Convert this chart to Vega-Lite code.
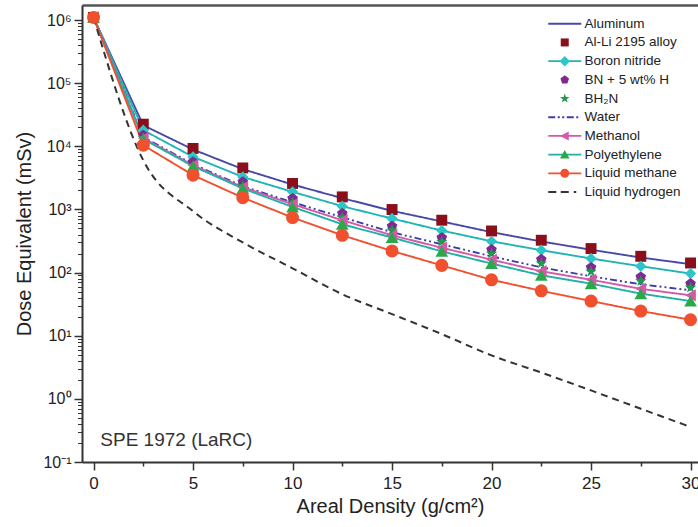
{
  "$schema": "https://vega.github.io/schema/vega-lite/v6.json",
  "width": 616,
  "height": 457,
  "padding": {"left": 82, "top": 5, "right": 0, "bottom": 65},
  "autosize": "none",
  "config": {
    "font": "Liberation Sans",
    "view": {"stroke": null},
    "axis": {"grid": false, "labelColor": "#222", "titleColor": "#222", "domainColor": "#333", "tickColor": "#333", "titleFontWeight": "normal", "labelFont": "Liberation Sans", "titleFont": "Liberation Sans"},
    "legend": {"labelFont": "Liberation Sans", "labelFontSize": 13.5, "labelColor": "#222", "symbolSize": 100, "labelOffset": 13, "rowPadding": 3.7, "padding": 0, "symbolStrokeWidth": 0, "orient": "none", "legendX": 476, "legendY": 12}
  },
  "data": {"values": [
    {"series": "Aluminum", "x": 0, "y": 1100000}, {"series": "Aluminum", "x": 2.5, "y": 21500}, {"series": "Aluminum", "x": 5, "y": 8900}, {"series": "Aluminum", "x": 7.5, "y": 4350}, {"series": "Aluminum", "x": 10, "y": 2480}, {"series": "Aluminum", "x": 12.5, "y": 1510}, {"series": "Aluminum", "x": 15, "y": 950}, {"series": "Aluminum", "x": 17.5, "y": 645}, {"series": "Aluminum", "x": 20, "y": 437}, {"series": "Aluminum", "x": 22.5, "y": 311}, {"series": "Aluminum", "x": 25, "y": 230}, {"series": "Aluminum", "x": 27.5, "y": 173}, {"series": "Aluminum", "x": 30, "y": 136},
    {"series": "Al-Li 2195 alloy", "x": 0, "y": 1100000}, {"series": "Al-Li 2195 alloy", "x": 2.5, "y": 22400}, {"series": "Al-Li 2195 alloy", "x": 5, "y": 9250}, {"series": "Al-Li 2195 alloy", "x": 7.5, "y": 4540}, {"series": "Al-Li 2195 alloy", "x": 10, "y": 2580}, {"series": "Al-Li 2195 alloy", "x": 12.5, "y": 1580}, {"series": "Al-Li 2195 alloy", "x": 15, "y": 997}, {"series": "Al-Li 2195 alloy", "x": 17.5, "y": 675}, {"series": "Al-Li 2195 alloy", "x": 20, "y": 456}, {"series": "Al-Li 2195 alloy", "x": 22.5, "y": 325}, {"series": "Al-Li 2195 alloy", "x": 25, "y": 240}, {"series": "Al-Li 2195 alloy", "x": 27.5, "y": 181}, {"series": "Al-Li 2195 alloy", "x": 30, "y": 142},
    {"series": "Boron nitride", "x": 0, "y": 1100000}, {"series": "Boron nitride", "x": 2.5, "y": 18000}, {"series": "Boron nitride", "x": 5, "y": 6800}, {"series": "Boron nitride", "x": 7.5, "y": 3270}, {"series": "Boron nitride", "x": 10, "y": 1900}, {"series": "Boron nitride", "x": 12.5, "y": 1125}, {"series": "Boron nitride", "x": 15, "y": 718}, {"series": "Boron nitride", "x": 17.5, "y": 463}, {"series": "Boron nitride", "x": 20, "y": 313}, {"series": "Boron nitride", "x": 22.5, "y": 226}, {"series": "Boron nitride", "x": 25, "y": 167}, {"series": "Boron nitride", "x": 27.5, "y": 126}, {"series": "Boron nitride", "x": 30, "y": 96.4},
    {"series": "BN + 5 wt% H", "x": 0, "y": 1100000}, {"series": "BN + 5 wt% H", "x": 2.5, "y": 15000}, {"series": "BN + 5 wt% H", "x": 5, "y": 5670}, {"series": "BN + 5 wt% H", "x": 7.5, "y": 2730}, {"series": "BN + 5 wt% H", "x": 10, "y": 1490}, {"series": "BN + 5 wt% H", "x": 12.5, "y": 861}, {"series": "BN + 5 wt% H", "x": 15, "y": 542}, {"series": "BN + 5 wt% H", "x": 17.5, "y": 356}, {"series": "BN + 5 wt% H", "x": 20, "y": 231}, {"series": "BN + 5 wt% H", "x": 22.5, "y": 162}, {"series": "BN + 5 wt% H", "x": 25, "y": 120}, {"series": "BN + 5 wt% H", "x": 27.5, "y": 85.1}, {"series": "BN + 5 wt% H", "x": 30, "y": 66.8},
    {"series": "BH₂N", "x": 0, "y": 1100000}, {"series": "BH₂N", "x": 2.5, "y": 13500}, {"series": "BH₂N", "x": 5, "y": 4900}, {"series": "BH₂N", "x": 7.5, "y": 2360}, {"series": "BH₂N", "x": 10, "y": 1290}, {"series": "BH₂N", "x": 12.5, "y": 744}, {"series": "BH₂N", "x": 15, "y": 468}, {"series": "BH₂N", "x": 17.5, "y": 308}, {"series": "BH₂N", "x": 20, "y": 200}, {"series": "BH₂N", "x": 22.5, "y": 140}, {"series": "BH₂N", "x": 25, "y": 104}, {"series": "BH₂N", "x": 27.5, "y": 73.5}, {"series": "BH₂N", "x": 30, "y": 57.7},
    {"series": "Water", "x": 0, "y": 1100000}, {"series": "Water", "x": 2.5, "y": 13960}, {"series": "Water", "x": 5, "y": 5210}, {"series": "Water", "x": 7.5, "y": 2330}, {"series": "Water", "x": 10, "y": 1300}, {"series": "Water", "x": 12.5, "y": 752}, {"series": "Water", "x": 15, "y": 435}, {"series": "Water", "x": 17.5, "y": 281}, {"series": "Water", "x": 20, "y": 181}, {"series": "Water", "x": 22.5, "y": 121}, {"series": "Water", "x": 25, "y": 87.3}, {"series": "Water", "x": 27.5, "y": 65.2}, {"series": "Water", "x": 30, "y": 52.4},
    {"series": "Methanol", "x": 0, "y": 1100000}, {"series": "Methanol", "x": 2.5, "y": 13460}, {"series": "Methanol", "x": 5, "y": 5000}, {"series": "Methanol", "x": 7.5, "y": 2250}, {"series": "Methanol", "x": 10, "y": 1210}, {"series": "Methanol", "x": 12.5, "y": 675}, {"series": "Methanol", "x": 15, "y": 390}, {"series": "Methanol", "x": 17.5, "y": 247}, {"series": "Methanol", "x": 20, "y": 160}, {"series": "Methanol", "x": 22.5, "y": 105}, {"series": "Methanol", "x": 25, "y": 76.9}, {"series": "Methanol", "x": 27.5, "y": 55.3}, {"series": "Methanol", "x": 30, "y": 43.6},
    {"series": "Polyethylene", "x": 0, "y": 1100000}, {"series": "Polyethylene", "x": 2.5, "y": 12980}, {"series": "Polyethylene", "x": 5, "y": 4840}, {"series": "Polyethylene", "x": 7.5, "y": 2150}, {"series": "Polyethylene", "x": 10, "y": 1096}, {"series": "Polyethylene", "x": 12.5, "y": 582}, {"series": "Polyethylene", "x": 15, "y": 359}, {"series": "Polyethylene", "x": 17.5, "y": 217}, {"series": "Polyethylene", "x": 20, "y": 139}, {"series": "Polyethylene", "x": 22.5, "y": 90.6}, {"series": "Polyethylene", "x": 25, "y": 66.8}, {"series": "Polyethylene", "x": 27.5, "y": 46.4}, {"series": "Polyethylene", "x": 30, "y": 35.4},
    {"series": "Liquid hydrogen", "x": 0, "y": 1100000}, {"series": "Liquid hydrogen", "x": 2.5, "y": 6000}, {"series": "Liquid hydrogen", "x": 5, "y": 938}, {"series": "Liquid hydrogen", "x": 7.5, "y": 300}, {"series": "Liquid hydrogen", "x": 10, "y": 117}, {"series": "Liquid hydrogen", "x": 12.5, "y": 45.4}, {"series": "Liquid hydrogen", "x": 15, "y": 22}, {"series": "Liquid hydrogen", "x": 17.5, "y": 10.6}, {"series": "Liquid hydrogen", "x": 20, "y": 4.88}, {"series": "Liquid hydrogen", "x": 22.5, "y": 2.61}, {"series": "Liquid hydrogen", "x": 25, "y": 1.36}, {"series": "Liquid hydrogen", "x": 27.5, "y": 0.697}, {"series": "Liquid hydrogen", "x": 30, "y": 0.359},
    {"series": "Liquid methane", "x": 0, "y": 1100000}, {"series": "Liquid methane", "x": 2.5, "y": 10400}, {"series": "Liquid methane", "x": 5, "y": 3490}, {"series": "Liquid methane", "x": 7.5, "y": 1535}, {"series": "Liquid methane", "x": 10, "y": 744}, {"series": "Liquid methane", "x": 12.5, "y": 390}, {"series": "Liquid methane", "x": 15, "y": 220}, {"series": "Liquid methane", "x": 17.5, "y": 130}, {"series": "Liquid methane", "x": 20, "y": 76.9}, {"series": "Liquid methane", "x": 22.5, "y": 51.4}, {"series": "Liquid methane", "x": 25, "y": 35.4}, {"series": "Liquid methane", "x": 27.5, "y": 24.6}, {"series": "Liquid methane", "x": 30, "y": 17.9}
  ]},
  "resolve": {
    "scale": {"shape": "independent", "fill": "independent", "size": "independent"},
    "axis": {"x": "independent", "y": "independent"},
    "legend": {"shape": "independent", "fill": "independent"}
  },
  "layer": [
    {
      "transform": [{"filter": {"field": "series", "oneOf": ["Aluminum", "Boron nitride", "Water", "Methanol", "Polyethylene", "Liquid methane"]}}],
      "mark": {"type": "line", "strokeWidth": 1.9},
      "encoding": {
        "x": {"field": "x", "type": "quantitative", "scale": {"domain": [-0.58, 30.375], "nice": false, "zero": false},
              "axis": {"orient": "bottom", "values": [0, 5, 10, 15, 20, 25, 30], "format": "d", "tickSize": 8, "tickWidth": 1.5, "domainWidth": 2, "labelFontSize": 17, "labelPadding": 5, "title": "Areal Density (g/cm²)", "titleFontSize": 20, "titlePadding": 5}},
        "y": {"field": "y", "type": "quantitative", "scale": {"type": "log", "domain": [0.1, 1730000], "nice": false},
              "axis": {"orient": "left", "values": [0.1, 1, 10, 100, 1000, 10000, 100000, 1000000], "labelExpr": "'10' + ['⁻¹','⁰','¹','²','³','⁴','⁵','⁶'][round(log(datum.value)/LN10)+1]", "tickSize": 8, "tickWidth": 1.5, "domainWidth": 2, "labelFontSize": 16, "labelPadding": 3, "title": "Dose Equivalent (mSv)", "titleFontSize": 20, "titlePadding": 8}},
        "stroke": {"field": "series", "type": "nominal", "legend": null,
                   "scale": {"domain": ["Aluminum", "Boron nitride", "Water", "Methanol", "Polyethylene", "Liquid methane"], "range": ["#4848a8", "#22b4b4", "#3d3dab", "#d45aa8", "#22b0a6", "#f0502e"]}},
        "strokeDash": {"field": "series", "type": "nominal", "legend": null,
                   "scale": {"domain": ["Aluminum", "Boron nitride", "Water", "Methanol", "Polyethylene", "Liquid methane"], "range": [[1, 0], [1, 0], [7, 3, 2, 3, 2, 3], [1, 0], [1, 0], [1, 0]]}}
      }
    },
    {
      "transform": [{"filter": {"field": "series", "equal": "Liquid hydrogen"}}],
      "mark": {"type": "line", "strokeWidth": 2, "color": "#333333", "strokeDash": [7, 5], "interpolate": "monotone"},
      "encoding": {
        "x": {"field": "x", "type": "quantitative", "axis": null},
        "y": {"field": "y", "type": "quantitative", "axis": null}
      }
    },
    {
      "transform": [{"filter": {"field": "series", "oneOf": ["Al-Li 2195 alloy", "Boron nitride", "BN + 5 wt% H", "BH₂N", "Methanol", "Polyethylene", "Liquid methane"]}}],
      "mark": {"type": "point", "filled": true, "opacity": 1, "strokeWidth": 0},
      "encoding": {
        "x": {"field": "x", "type": "quantitative",
              "axis": {"orient": "bottom", "values": [2.5, 7.5, 12.5, 17.5, 22.5, 27.5], "labels": false, "domain": false, "tickSize": 4, "tickWidth": 1.5, "title": null}},
        "y": {"field": "y", "type": "quantitative",
              "axis": {"orient": "left", "values": [0.2, 0.3, 0.4, 0.5, 0.6, 0.7, 0.8, 0.9, 2, 3, 4, 5, 6, 7, 8, 9, 20, 30, 40, 50, 60, 70, 80, 90, 200, 300, 400, 500, 600, 700, 800, 900, 2000, 3000, 4000, 5000, 6000, 7000, 8000, 9000, 20000, 30000, 40000, 50000, 60000, 70000, 80000, 90000, 200000, 300000, 400000, 500000, 600000, 700000, 800000, 900000], "labels": false, "domain": false, "tickSize": 4.5, "tickWidth": 1, "title": null}},
        "shape": {"field": "series", "type": "nominal", "legend": null,
                  "scale": {"domain": ["Al-Li 2195 alloy", "Boron nitride", "BN + 5 wt% H", "BH₂N", "Methanol", "Polyethylene", "Liquid methane"],
                            "range": ["square", "diamond", "M0,-0.95L0.904,-0.294L0.558,0.769L-0.558,0.769L-0.904,-0.294Z", "M0,-1L0.235,-0.324L0.951,-0.309L0.380,0.124L0.588,0.809L0,0.4L-0.588,0.809L-0.380,0.124L-0.951,-0.309L-0.235,-0.324Z", "triangle-left", "triangle-up", "circle"]}},
        "fill": {"field": "series", "type": "nominal", "legend": null,
                 "scale": {"domain": ["Al-Li 2195 alloy", "Boron nitride", "BN + 5 wt% H", "BH₂N", "Methanol", "Polyethylene", "Liquid methane"],
                           "range": ["#8b0f1a", "#2cc6c6", "#7e2a90", "#1e9a4e", "#d45aa8", "#2aa84a", "#f0502e"]}},
        "size": {"field": "series", "type": "nominal", "legend": null,
                 "scale": {"domain": ["Al-Li 2195 alloy", "Boron nitride", "BN + 5 wt% H", "BH₂N", "Methanol", "Polyethylene", "Liquid methane"],
                           "range": [120, 170, 150, 130, 140, 150, 160]}}
      }
    },
    {
      "transform": [{"filter": "datum.x < -100"}],
      "mark": {"type": "point", "filled": true, "opacity": 1},
      "encoding": {
        "x": {"field": "x", "type": "quantitative",
              "axis": {"orient": "top", "domain": true, "domainWidth": 2.5, "domainColor": "#555", "ticks": false, "labels": false, "title": null}},
        "y": {"field": "y", "type": "quantitative", "axis": null},
        "shape": {"field": "series", "type": "nominal",
                  "scale": {"domain": ["Aluminum", "Al-Li 2195 alloy", "Boron nitride", "BN + 5 wt% H", "BH₂N", "Water", "Methanol", "Polyethylene", "Liquid methane", "Liquid hydrogen"],
                            "range": ["M-3.3,-0.18H3.3V0.18H-3.3Z", "M-3.3,-0.18H3.3V0.18H-3.3Z", "M-3.3,-0.18H3.3V0.18H-3.3Z", "M-3.3,-0.18H3.3V0.18H-3.3Z", "M-3.3,-0.18H3.3V0.18H-3.3Z",
                                      "M-3.3,-0.18H-1.9V0.18H-3.3ZM-1.4,-0.18H-1.0V0.18H-1.4ZM-0.5,-0.18H-0.1V0.18H-0.5ZM0.4,-0.18H1.8V0.18H0.4ZM2.3,-0.18H2.7V0.18H2.3Z",
                                      "M-3.3,-0.18H3.3V0.18H-3.3Z", "M-3.3,-0.18H3.3V0.18H-3.3Z", "M-3.3,-0.18H3.3V0.18H-3.3Z",
                                      "M-3.3,-0.2H-1.7V0.2H-3.3ZM-0.8,-0.2H0.8V0.2H-0.8ZM1.8,-0.2H2.3V0.2H1.8Z"]},
                  "legend": {"title": null}},
        "fill": {"field": "series", "type": "nominal",
                 "scale": {"domain": ["Aluminum", "Al-Li 2195 alloy", "Boron nitride", "BN + 5 wt% H", "BH₂N", "Water", "Methanol", "Polyethylene", "Liquid methane", "Liquid hydrogen"],
                           "range": ["#4848a8", "transparent", "#22b4b4", "transparent", "transparent", "#3d3dab", "#d45aa8", "#22b0a6", "#f0502e", "#333333"]},
                 "legend": {"title": null}}
      }
    },
    {
      "transform": [{"filter": "datum.x < -100"}],
      "mark": {"type": "point", "filled": true, "opacity": 1},
      "encoding": {
        "x": {"field": "x", "type": "quantitative", "axis": null},
        "y": {"field": "y", "type": "quantitative", "axis": null},
        "shape": {"field": "series", "type": "nominal",
                  "scale": {"domain": ["Aluminum", "Al-Li 2195 alloy", "Boron nitride", "BN + 5 wt% H", "BH₂N", "Water", "Methanol", "Polyethylene", "Liquid methane", "Liquid hydrogen"],
                            "range": ["M-0.8,-0.8H0.8V0.8H-0.8Z", "M-0.8,-0.8H0.8V0.8H-0.8Z", "M0,-1.05L1.05,0L0,1.05L-1.05,0Z", "M0,-0.9L0.856,-0.278L0.529,0.728L-0.529,0.728L-0.856,-0.278Z", "M0,-1L0.235,-0.324L0.951,-0.309L0.380,0.124L0.588,0.809L0,0.4L-0.588,0.809L-0.380,0.124L-0.951,-0.309L-0.235,-0.324Z", "M-0.8,-0.8H0.8V0.8H-0.8Z", "M-0.95,0L0.8,-0.9L0.8,0.9Z", "M0,-0.95L0.95,0.75L-0.95,0.75Z", "M-0.9,0A0.9,0.9,0,1,1,0.9,0A0.9,0.9,0,1,1,-0.9,0Z", "M-0.8,-0.8H0.8V0.8H-0.8Z"]},
                  "legend": {"title": null, "labelOpacity": 0}},
        "fill": {"field": "series", "type": "nominal",
                 "scale": {"domain": ["Aluminum", "Al-Li 2195 alloy", "Boron nitride", "BN + 5 wt% H", "BH₂N", "Water", "Methanol", "Polyethylene", "Liquid methane", "Liquid hydrogen"],
                           "range": ["transparent", "#8b0f1a", "#2cc6c6", "#7e2a90", "#1e9a4e", "transparent", "#d45aa8", "#2aa84a", "#f0502e", "transparent"]},
                 "legend": {"title": null, "labelOpacity": 0}}
      }
    },
    {
      "data": {"values": [{"label": "SPE 1972 (LaRC)"}]},
      "mark": {"type": "text", "align": "left", "baseline": "middle", "fontSize": 19, "color": "#333", "font": "Liberation Sans"},
      "encoding": {
        "x": {"datum": 0.34, "type": "quantitative", "axis": null},
        "y": {"datum": 0.22, "type": "quantitative", "axis": null},
        "text": {"field": "label"}
      }
    }
  ]
}
